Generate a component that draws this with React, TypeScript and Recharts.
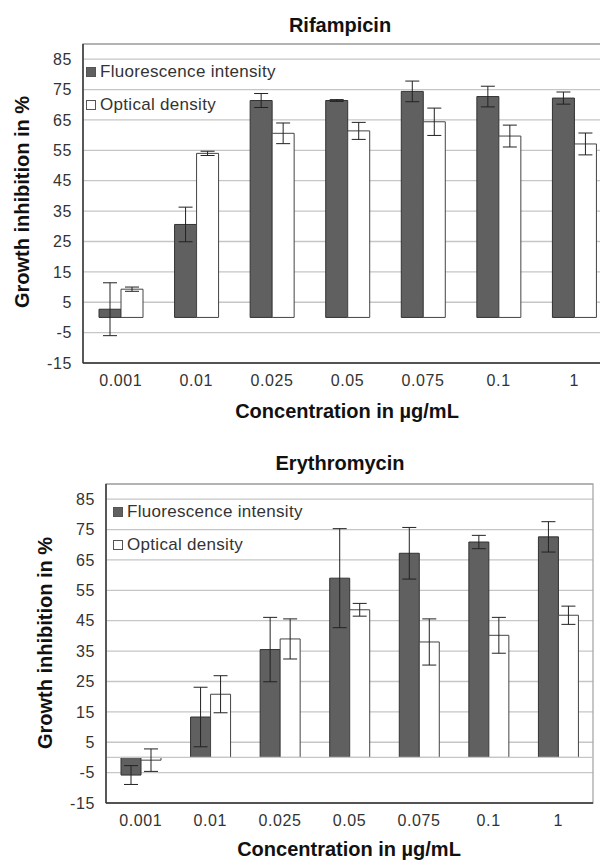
import React from "react"
import {
  BarChart,
  Bar,
  XAxis,
  YAxis,
  CartesianGrid,
  ErrorBar,
  Legend,
  ReferenceArea,
  ReferenceLine,
} from "recharts"

const categories = ["0.001", "0.01", "0.025", "0.05", "0.075", "0.1", "1"]
const yTicks = [-15, -5, 5, 15, 25, 35, 45, 55, 65, 75, 85]

const rifFluor = [2.7, 30.6, 71.4, 71.4, 74.4, 72.7, 72.2]
const rifFluorErr = [8.7, 5.7, 2.3, 0.3, 3.4, 3.4, 2.0]
const rifOd = [9.3, 54.0, 60.6, 61.4, 64.4, 59.7, 57.1]
const rifOdErr = [0.7, 0.7, 3.4, 2.8, 4.5, 3.6, 3.6]

const eryFluor = [-5.8, 13.3, 35.5, 59.0, 67.2, 70.9, 72.6]
const eryFluorErr = [3.1, 9.8, 10.6, 16.3, 8.5, 2.2, 5.0]
const eryOd = [-0.9, 20.8, 39.0, 48.6, 38.0, 40.2, 46.8]
const eryOdErr = [3.7, 6.1, 6.6, 2.1, 7.6, 5.9, 3.0]

const FONT = "'Liberation Sans', Arial, sans-serif"
const DARK = "#606060"
const tickStyle = { fontSize: 16, fill: "#333", fontFamily: FONT, letterSpacing: 0.6 }

function buildRows(f: number[], fe: number[], o: number[], oe: number[]) {
  return categories.map((c, i) => ({
    conc: c,
    fluor: f[i],
    fluorErr: fe[i],
    od: o[i],
    odErr: oe[i],
  }))
}

function LegendBox(props: any) {
  const items = props.payload || []
  return (
    <div style={{ fontFamily: FONT, fontSize: 17, letterSpacing: 0.3, color: "#333", textAlign: "left" }}>
      {items.map((it: any) => (
        <div key={it.value} style={{ display: "flex", alignItems: "center", height: 33, whiteSpace: "nowrap" }}>
          <span
            style={{
              display: "inline-block",
              width: 8,
              height: 8,
              background: it.payload.fill,
              border: "1px solid #555",
              marginRight: 4,
            }}
          />
          <span>{it.value}</span>
        </div>
      ))}
    </div>
  )
}

function Title({ text, cx, top }: { text: string; cx: number; top: number }) {
  return (
    <div
      style={{
        position: "absolute",
        left: cx - 200,
        top,
        width: 400,
        textAlign: "center",
        fontFamily: FONT,
        fontWeight: "bold",
        fontSize: 20,
        lineHeight: "24px",
        color: "#111",
      }}
    >
      {text}
    </div>
  )
}

function VTitle({ text, cx, cy }: { text: string; cx: number; cy: number }) {
  return (
    <div
      style={{
        position: "absolute",
        left: cx - 150,
        top: cy - 12,
        width: 300,
        height: 24,
        textAlign: "center",
        fontFamily: FONT,
        fontWeight: "bold",
        fontSize: 20,
        lineHeight: "24px",
        color: "#111",
        transform: "rotate(-90deg)",
      }}
    >
      {text}
    </div>
  )
}

function Panel({
  data,
  width,
  margin,
  barSize,
  legendLeft,
  zeroLine,
}: {
  data: any[]
  width: number
  margin: any
  barSize: number
  legendLeft: number
  zeroLine?: boolean
}) {
  return (
    <BarChart width={width} height={400} data={data} margin={margin} barGap={0} barSize={barSize}>
      <CartesianGrid vertical={false} stroke="#c6c6c6" strokeWidth={1.3} />
      <ReferenceArea y1={-15} y2={90} fill="none" stroke="#a8a8a8" strokeWidth={1.3} />
      {zeroLine && <ReferenceLine y={0} stroke="#c6c6c6" strokeWidth={1.3} />}
      <XAxis
        dataKey="conc"
        height={30}
        tickLine={false}
        tickSize={6}
        tickMargin={6}
        axisLine={{ stroke: "#333", strokeWidth: 1.5 }}
        tick={tickStyle}
        interval={0}
      />
      <YAxis
        width={50}
        domain={[-15, 90]}
        ticks={yTicks}
        allowDataOverflow
        tickLine={false}
        tickSize={0}
        tickMargin={11}
        axisLine={{ stroke: "#333", strokeWidth: 1.5 }}
        tick={tickStyle}
      />
      <Legend
        layout="vertical"
        verticalAlign="middle"
        align="center"
        wrapperStyle={{ top: 55, left: legendLeft, width: "auto", height: "auto" }}
        content={LegendBox}
      />
      <Bar dataKey="fluor" name="Fluorescence intensity" fill={DARK} stroke="#333" strokeWidth={1} isAnimationActive={false}>
        <ErrorBar dataKey="fluorErr" width={7} stroke="#222" strokeWidth={1} direction="y" isAnimationActive={false} />
      </Bar>
      <Bar dataKey="od" name="Optical density" fill="#ffffff" stroke="#444" strokeWidth={1} isAnimationActive={false}>
        <ErrorBar dataKey="odErr" width={7} stroke="#222" strokeWidth={1} direction="y" isAnimationActive={false} />
      </Bar>
    </BarChart>
  )
}

export default function App() {
  const rif = buildRows(rifFluor, rifFluorErr, rifOd, rifOdErr)
  const ery = buildRows(eryFluor, eryFluorErr, eryOd, eryOdErr)
  return (
    <div
      style={{
        position: "absolute",
        left: 0,
        top: 0,
        width: 600,
        height: 860,
        overflow: "hidden",
        background: "#fff",
      }}
    >
      <div style={{ position: "absolute", left: 0, top: 0 }}>
        <Panel
          data={rif}
          width={640}
          margin={{ top: 44, right: 28, left: 33, bottom: 7 }}
          barSize={22}
          legendLeft={86}
        />
      </div>
      <div style={{ position: "absolute", left: 0, top: 440 }}>
        <Panel
          data={ery}
          width={600}
          margin={{ top: 44, right: 7, left: 56, bottom: 7 }}
          barSize={20}
          legendLeft={113}
          zeroLine
        />
      </div>
      <Title text="Rifampicin" cx={340} top={13} />
      <Title text="Concentration in µg/mL" cx={347} top={399} />
      <Title text="Erythromycin" cx={340} top={451} />
      <Title text="Concentration in µg/mL" cx={349} top={837} />
      <VTitle text="Growth inhibition in %" cx={22} cy={202} />
      <VTitle text="Growth inhibition in %" cx={45} cy={643} />
    </div>
  )
}
